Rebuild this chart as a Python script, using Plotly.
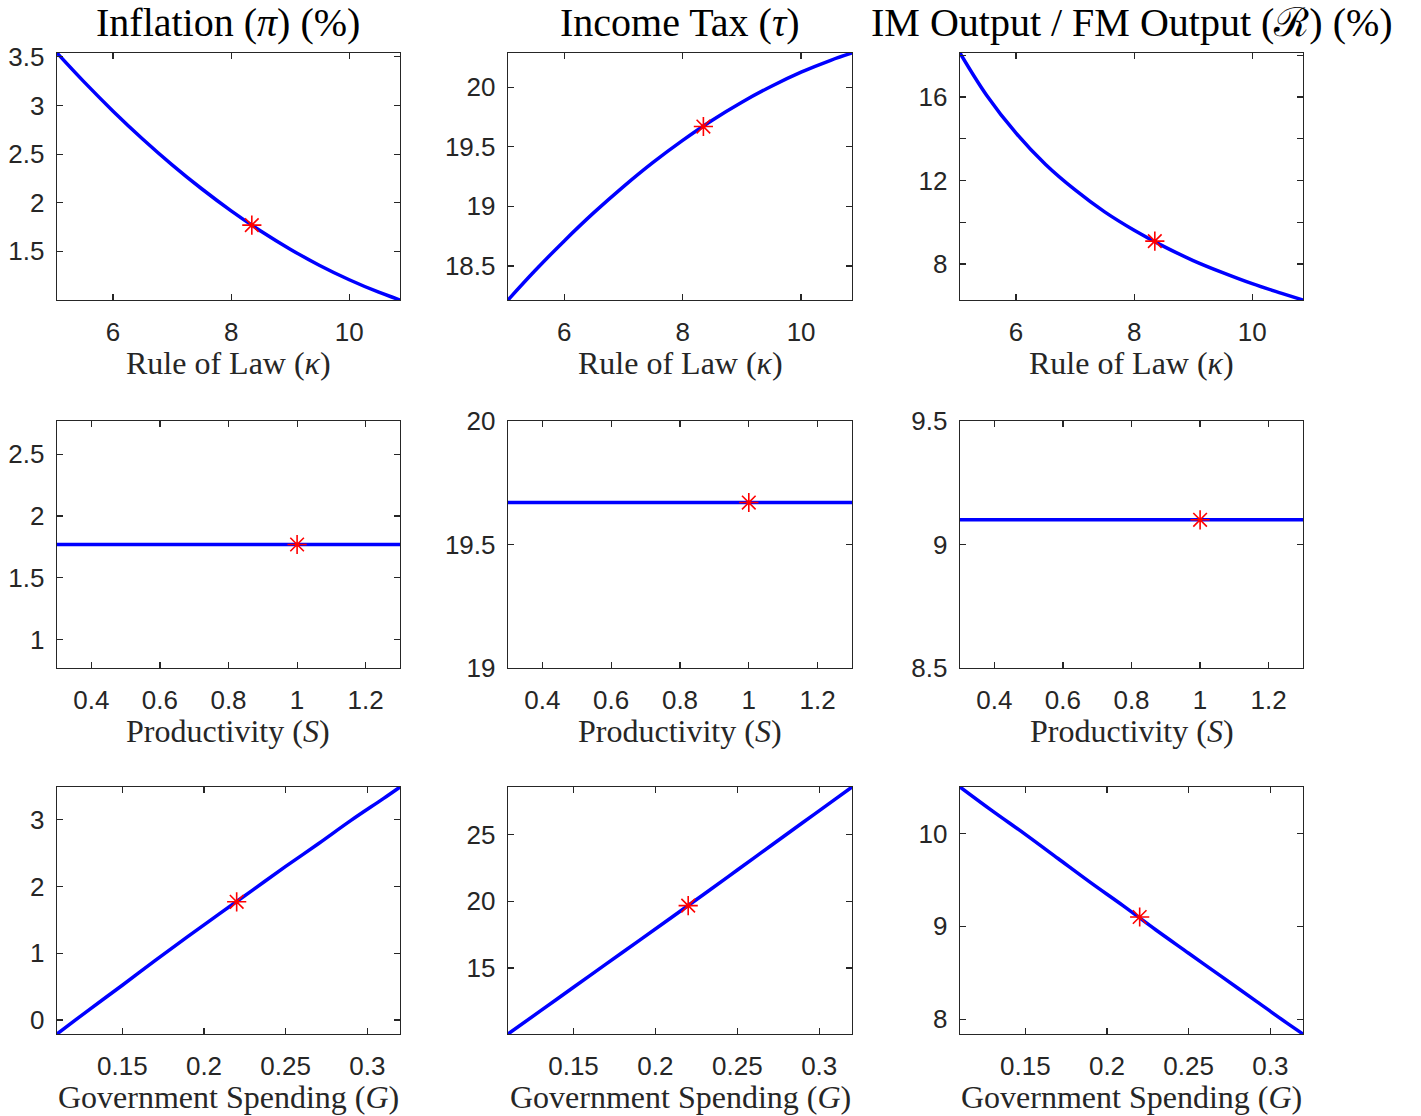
import plotly.graph_objects as go

# ---------------- data ----------------
kappa = [5.05, 5.5, 6.0, 6.5, 7.0, 7.5, 8.0, 8.5, 9.0, 9.5, 10.0, 10.5, 10.86]
inflation_kappa = [3.540, 3.248, 2.942, 2.656, 2.390, 2.144, 1.917, 1.710, 1.523, 1.355, 1.208, 1.080, 1.000]
tax_kappa = [18.214, 18.457, 18.710, 18.947, 19.166, 19.369, 19.554, 19.723, 19.874, 20.008, 20.126, 20.226, 20.287]
ratio_kappa = [18.11, 16.09, 14.27, 12.77, 11.55, 10.50, 9.62, 8.85, 8.17, 7.59, 7.06, 6.60, 6.28]

S = [0.3, 0.5, 0.7, 0.9, 1.1, 1.3]
inflation_S = [1.77, 1.77, 1.77, 1.77, 1.77, 1.77]
tax_S = [19.67, 19.67, 19.67, 19.67, 19.67, 19.67]
ratio_S = [9.10, 9.10, 9.10, 9.10, 9.10, 9.10]

G = [0.11, 0.13, 0.15, 0.17, 0.19, 0.21, 0.23, 0.25, 0.27, 0.29, 0.31, 0.32]
inflation_G = [-0.21, 0.16, 0.52, 0.89, 1.25, 1.60, 1.95, 2.30, 2.64, 2.99, 3.32, 3.49]
tax_G = [10.05, 11.80, 13.55, 15.30, 17.05, 18.80, 20.56, 22.34, 24.12, 25.90, 27.67, 28.56]
ratio_G = [10.50, 10.24, 9.99, 9.73, 9.47, 9.22, 8.96, 8.71, 8.46, 8.21, 7.96, 7.84]

# baseline (steady state) point
kappa0, S0, G0 = 8.35, 1.0, 0.22
pi0, tau0, R0 = 1.77, 19.67, 9.10

titles = ["Inflation (<i>π</i>) (%)", "Income Tax (<i>τ</i>)", "IM Output / FM Output (ℛ) (%)"]
xlabels = ["Rule of Law (<i>κ</i>)", "Productivity (<i>S</i>)", "Government Spending (<i>G</i>)"]

x_ticks = [
    ([6, 8, 10], ["6", "8", "10"]),
    ([0.4, 0.6, 0.8, 1.0, 1.2], ["0.4", "0.6", "0.8", "1", "1.2"]),
    ([0.15, 0.2, 0.25, 0.3], ["0.15", "0.2", "0.25", "0.3"]),
]
y_ticks = [
    [([1.5, 2, 2.5, 3, 3.5], ["1.5", "2", "2.5", "3", "3.5"]),
     ([18.5, 19, 19.5, 20], ["18.5", "19", "19.5", "20"]),
     ([8, 10, 12, 14, 16, 18], ["8", "", "12", "", "16", ""])],
    [([1, 1.5, 2, 2.5], ["1", "1.5", "2", "2.5"]),
     ([19, 19.5, 20], ["19", "19.5", "20"]),
     ([8.5, 9, 9.5], ["8.5", "9", "9.5"])],
    [([0, 1, 2, 3], ["0", "1", "2", "3"]),
     ([15, 20, 25], ["15", "20", "25"]),
     ([8, 9, 10], ["8", "9", "10"])],
]
row2_yranges = [[0.77, 2.77], [19.0, 20.0], [8.5, 9.5]]

xs = [kappa, S, G]
ys = [[inflation_kappa, tax_kappa, ratio_kappa],
      [inflation_S, tax_S, ratio_S],
      [inflation_G, tax_G, ratio_G]]
x0s = [kappa0, S0, G0]
y0s = [pi0, tau0, R0]

# ---------------- layout geometry (pixels) ----------------
W, H = 1421, 1116
col_px = [(57, 400), (508, 852), (960, 1303)]
row_px = [(53, 300), (421, 668), (787, 1034)]
title_y_px = 22
xlabel_y_px = [363, 731, 1097]

AX = "#262626"
tick_font = dict(family="Liberation Sans, Arial, sans-serif", size=26, color=AX)
serif = "Liberation Serif, Times New Roman, serif"

fig = go.Figure()
layout = dict(
    width=W, height=H,
    margin=dict(l=0, r=0, t=0, b=0, pad=0, autoexpand=False),
    paper_bgcolor="white", plot_bgcolor="white",
    showlegend=False,
)
annotations = []

for r in range(3):
    for c in range(3):
        k = r * 3 + c + 1
        xname = "xaxis" if k == 1 else f"xaxis{k}"
        yname = "yaxis" if k == 1 else f"yaxis{k}"
        xref = "x" if k == 1 else f"x{k}"
        yref = "y" if k == 1 else f"y{k}"

        xd = xs[r]
        yd = ys[r][c]
        fig.add_trace(go.Scatter(
            x=xd, y=yd, mode="lines", xaxis=xref, yaxis=yref,
            line=dict(color="#0000FF", width=3.5, shape="spline", smoothing=1.0),
            hoverinfo="skip",
        ))
        fig.add_trace(go.Scatter(
            x=[x0s[r]], y=[y0s[c]], mode="markers", xaxis=xref, yaxis=yref,
            marker=dict(symbol="asterisk-open", size=16, color="#FF0000",
                        line=dict(color="#FF0000", width=1.6)),
            hoverinfo="skip", cliponaxis=False,
        ))

        xl, xr = col_px[c]
        yt, yb = row_px[r]
        if r == 1:
            yrange = row2_yranges[c]
        else:
            yrange = [min(yd), max(yd)]
        common = dict(
            showline=True, linecolor=AX, linewidth=1.3, mirror="ticks",
            ticks="inside", ticklen=6, tickwidth=1.2, tickcolor=AX,
            showgrid=False, zeroline=False, tickfont=tick_font,
            automargin=False,
        )
        layout[xname] = dict(
            domain=[xl / W, xr / W], anchor=yref,
            range=[min(xd), max(xd)],
            tickmode="array", tickvals=x_ticks[r][0], ticktext=x_ticks[r][1],
            ticklabelstandoff=8, **common,
        )
        layout[yname] = dict(
            domain=[1 - yb / H, 1 - yt / H], anchor=xref,
            range=yrange,
            tickmode="array", tickvals=y_ticks[r][c][0], ticktext=y_ticks[r][c][1],
            ticklabelstandoff=6, **common,
        )

        cx = (xl + xr) / 2 / W
        annotations.append(dict(
            text=xlabels[r], x=cx, y=1 - xlabel_y_px[r] / H,
            xref="paper", yref="paper", xanchor="center", yanchor="middle",
            showarrow=False, font=dict(family=serif, size=32, color=AX),
        ))
        if r == 0:
            annotations.append(dict(
                text=titles[c], x=cx, y=1 - title_y_px / H,
                xref="paper", yref="paper", xanchor="center", yanchor="middle",
                showarrow=False, font=dict(family=serif, size=40, color="#000000"),
            ))

layout["annotations"] = annotations
fig.update_layout(**layout)
fig.write_html(
    "out.html",
    config={"displayModeBar": False, "staticPlot": True},
    post_script="document.body.style.margin='0';document.body.style.overflow='hidden';",
)
